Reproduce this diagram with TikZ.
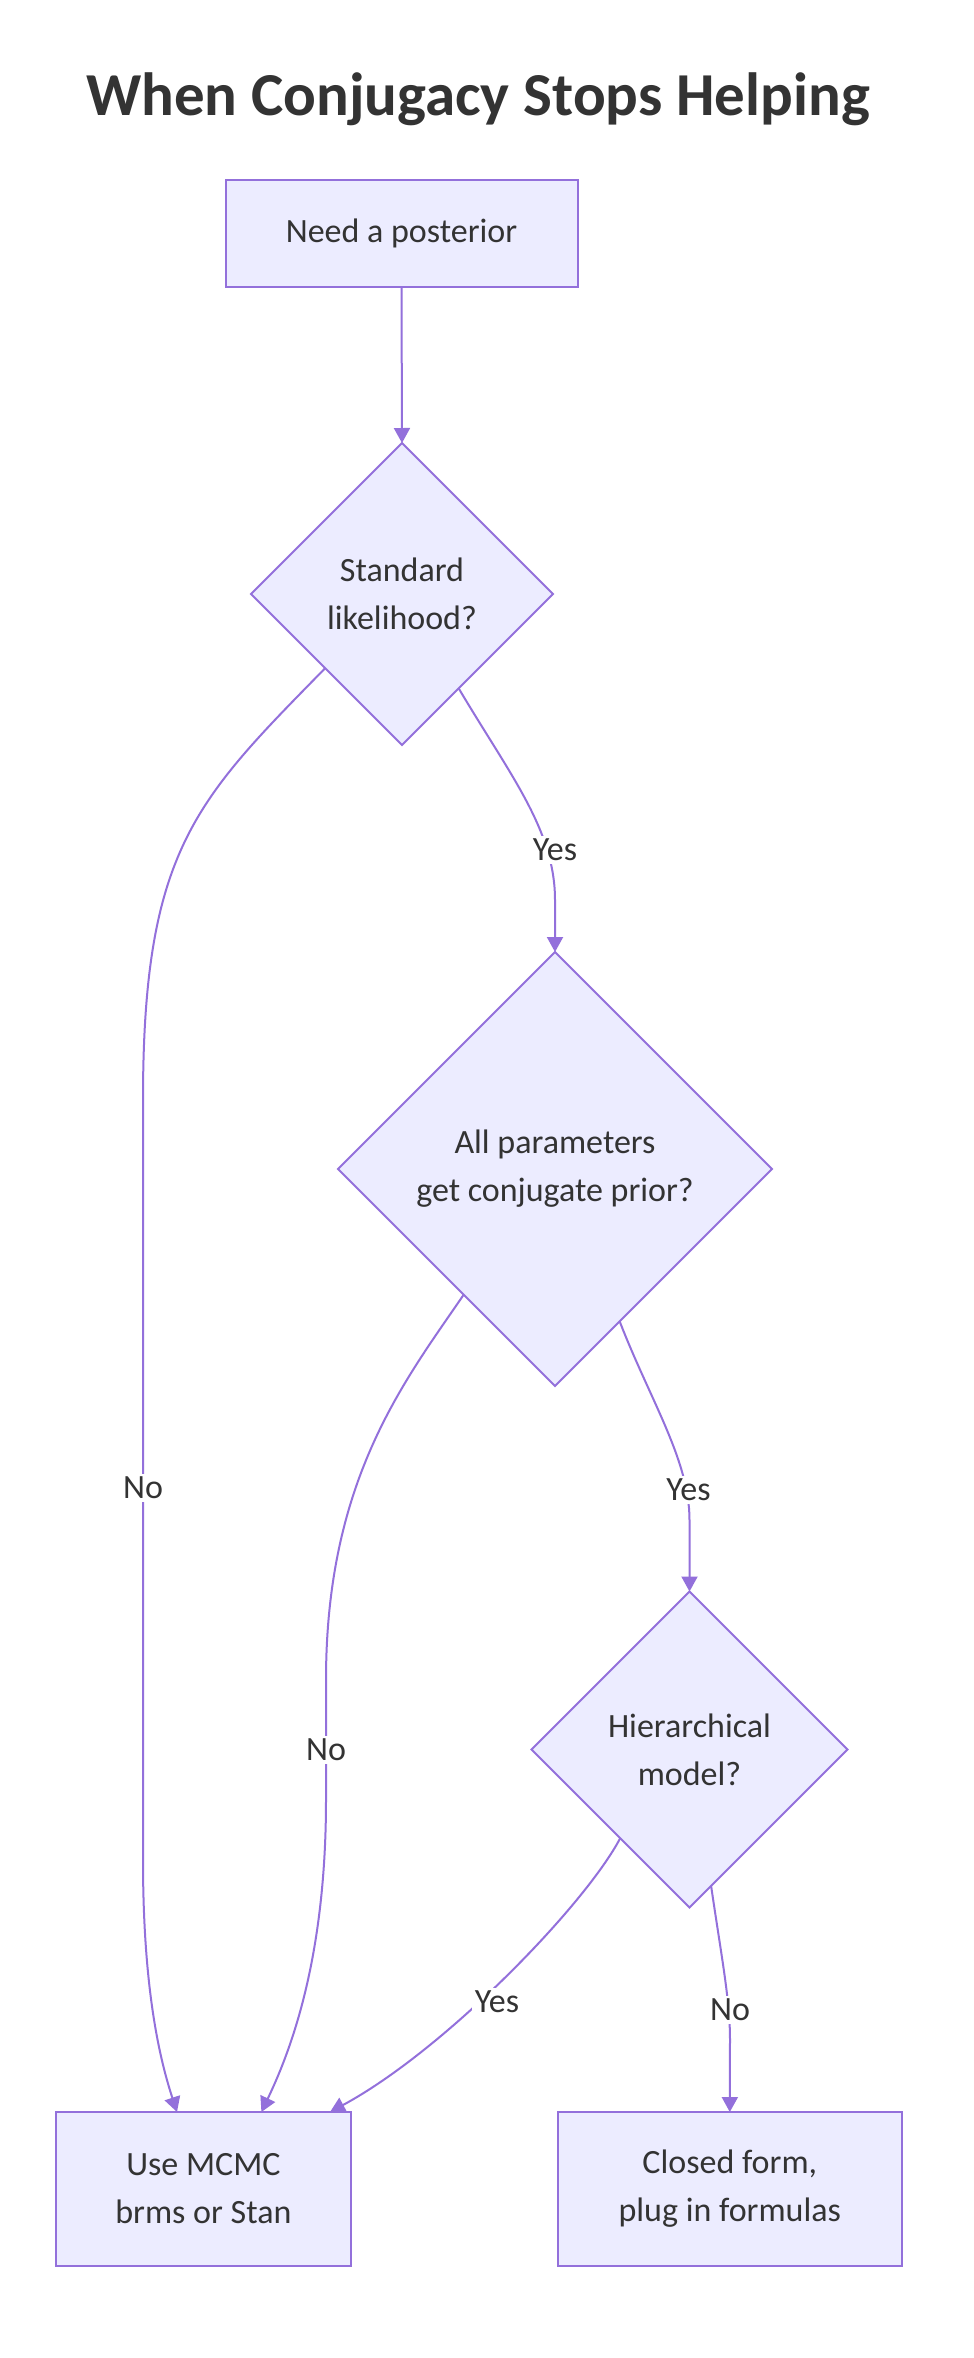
\documentclass[tikz,border=0pt]{standalone}
\usepackage{fontspec}
\setmainfont{Carlito}
\usetikzlibrary{shapes.geometric,arrows.meta,calc}
\definecolor{nodefill}{HTML}{ECECFF}
\definecolor{nodeline}{HTML}{9370DB}
\definecolor{txt}{HTML}{333333}
\begin{document}
\begin{tikzpicture}[x=1pt,y=-1pt,
  every node/.style={text=txt, font=\fontsize{34}{48}\selectfont},
  proc/.style={draw=nodeline, fill=nodefill, line width=2pt, rectangle,
    minimum width=#1, minimum height=154pt, align=center, inner sep=0pt, outer sep=0pt},
  decision/.style={draw=nodeline, fill=nodefill, line width=2pt, diamond, aspect=1,
    minimum width=#1, minimum height=#1, align=center, inner sep=0pt, outer sep=0pt},
  edge/.style={draw=nodeline, line width=2pt, -{Triangle[length=15pt,width=16pt]}},
  lbl/.style={fill=white, inner sep=3pt}
]
\fill[white] (0,0) rectangle (974,2358);
\useasboundingbox (0,0) rectangle (974,2358);

\node[font=\bfseries\fontsize{61}{70}\selectfont, anchor=base] (title) at (478,115) {When Conjugacy Stops Helping};

\node[proc=352pt, minimum height=107pt] (b1) at (401.5,233) {Need a posterior};
\node[decision=302pt] (d1) at (402,594) {Standard\\likelihood?};
\node[decision=434pt] (d2) at (555,1169) {All parameters\\get conjugate prior?};
\node[decision=316pt] (d3) at (689.5,1749.5) {Hierarchical\\model?};
\node[proc=295pt] (mc) at (203.4,2189) {Use MCMC\\brms or Stan};
\node[proc=344pt] (cl) at (729.8,2189) {Closed form,\\plug in formulas};

\draw[edge] (b1.south) -- (d1.north);
\draw[edge] (d1.224) .. controls (196,800) and (143,850) .. (143,1100) -- (143,1860)
  .. controls (143,1990) and (160,2060) .. ([xshift=-26.4pt]mc.north);
\draw[edge] (d1.-59) .. controls (510,775) and (555,830) .. (555,900) -- (d2.north);
\draw[edge] (d2.234) .. controls (404,1382) and (326,1480) .. (326,1680) -- (326,1800)
  .. controls (326,1960) and (290,2052) .. ([xshift=58pt]mc.north);
\draw[edge] (d2.-67) .. controls (650,1400) and (689.5,1460) .. (689.5,1520) -- (d3.north);
\draw[edge] (d3.232) .. controls (585,1905) and (445,2050) .. ([xshift=126.6pt]mc.north);
\draw[edge] (d3.-81) .. controls (722,1960) and (730,2000) .. (730,2040) -- (cl.north);

\node[lbl] (l1) at (555,850) {Yes};
\node[lbl] (l2) at (143,1488) {No};
\node[lbl] (l3) at (688.5,1490) {Yes};
\node[lbl] (l4) at (326,1750) {No};
\node[lbl] (l5) at (497,2002) {Yes};
\node[lbl] (l6) at (730,2010) {No};
\end{tikzpicture}
\end{document}
